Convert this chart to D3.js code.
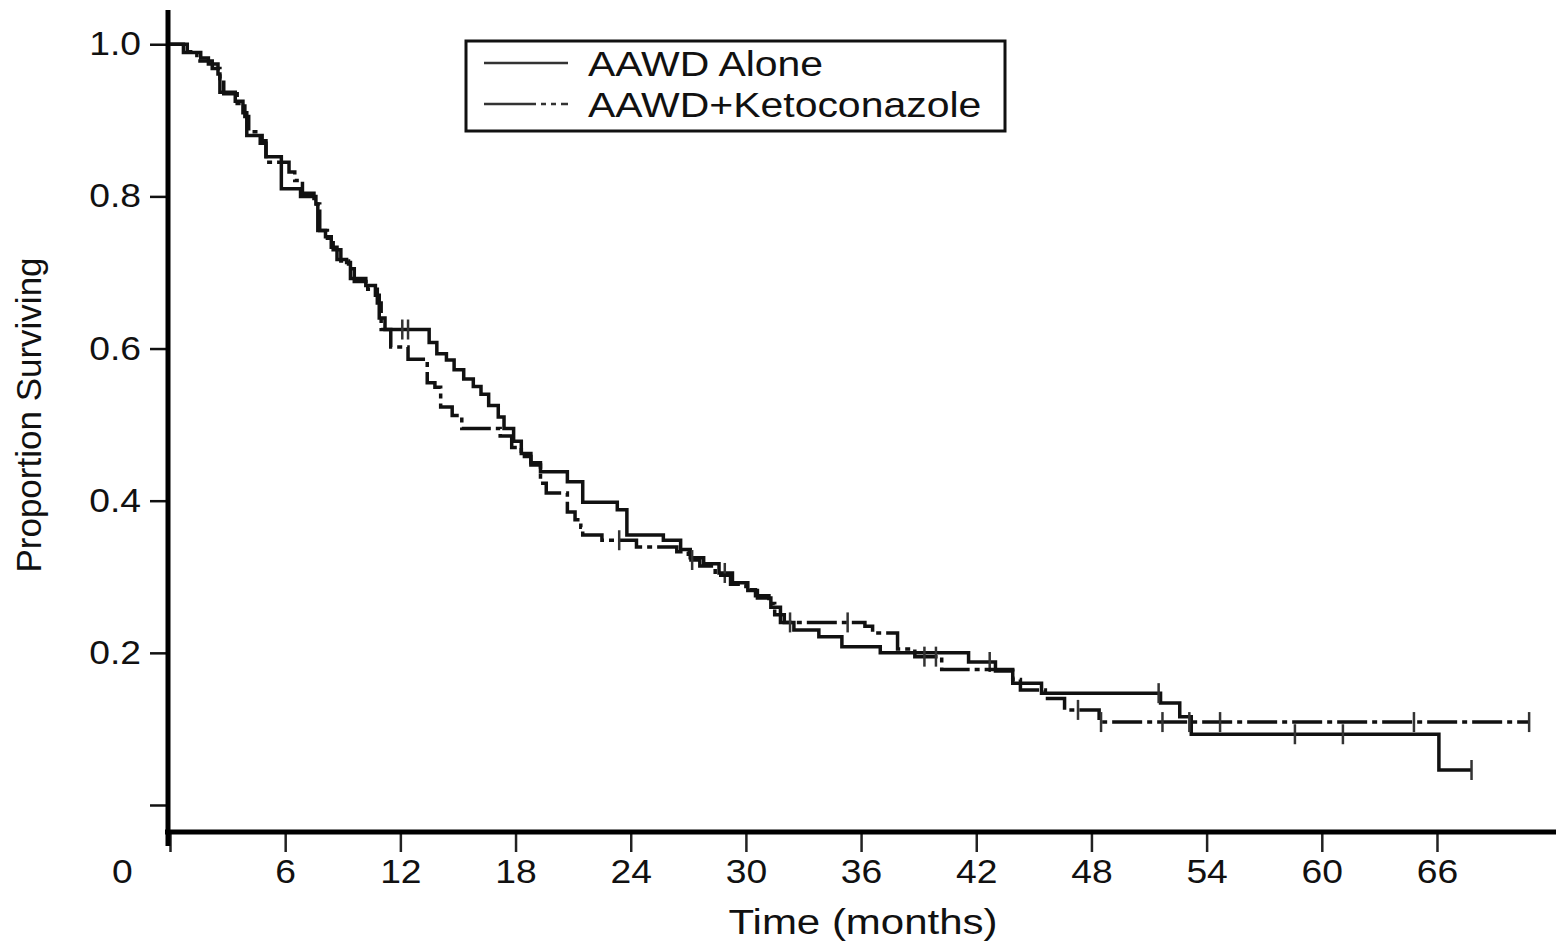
<!DOCTYPE html>
<html>
<head>
<meta charset="utf-8">
<script src="https://cdn.jsdelivr.net/npm/d3@7"></script>
<style>
html,body{margin:0;padding:0;background:#fff;}
svg{display:block;}
text{font-family:"Liberation Sans",Arial,sans-serif;fill:#111;}
</style>
</head>
<body>
<svg id="chart" width="1556" height="949"></svg>
<script>
// ---- data ----
const seriesNames = ["AAWD Alone", "AAWD+Ketoconazole"];
const xTicks = [0, 6, 12, 18, 24, 30, 36, 42, 48, 54, 60, 66];
const xTickLabels = ["0", "6", "12", "18", "24", "30", "36", "42", "48", "54", "60", "66"];
const yTicks = [0, 0.2, 0.4, 0.6, 0.8, 1.0];
const yTickLabels = ["", "0.2", "0.4", "0.6", "0.8", "1.0"];
const xTitle = "Time (months)";
const yTitle = "Proportion Surviving";

// AAWD Alone: event times (months) and survival after each step
const aloneTimes = [0, 0.7, 1.6, 2.0, 2.5, 2.6, 3.4, 3.8, 4.0, 4.8, 5.0, 5.8, 6.8, 7.6, 7.7, 8.1, 8.4, 8.7, 9.2, 9.4, 10.2, 10.7, 10.9, 11.2,
  13.5, 13.9, 14.4, 14.8, 15.3, 15.8, 16.2, 16.6, 17.1, 17.4, 17.9, 18.3, 18.8, 19.3, 20.7, 21.5, 23.3, 23.8, 25.7, 26.6, 27.1, 27.8,
  28.6, 29.3, 30.1, 30.6, 31.3, 31.8, 32.5, 33.8, 35.0, 37.0, 41.6, 43.0, 43.9, 45.4, 51.6, 52.6, 53.2, 66.1];
const aloneSurv = [1.0, 0.989, 0.982, 0.974, 0.961, 0.937, 0.925, 0.910, 0.880, 0.873, 0.852, 0.810, 0.800, 0.790, 0.755, 0.747, 0.733, 0.717, 0.713, 0.692, 0.683, 0.670, 0.640, 0.625,
  0.608, 0.593, 0.585, 0.572, 0.560, 0.550, 0.540, 0.525, 0.510, 0.495, 0.478, 0.462, 0.450, 0.438, 0.425, 0.398, 0.388, 0.355, 0.348, 0.336, 0.325, 0.317,
  0.305, 0.292, 0.282, 0.272, 0.260, 0.240, 0.230, 0.221, 0.208, 0.200, 0.188, 0.176, 0.160, 0.147, 0.134, 0.116, 0.093, 0.046];
const aloneEnd = 67.8;
const aloneCensored = [12.1, 12.4, 28.9, 42.7, 51.5, 58.6, 61.1, 67.8];

// AAWD + Ketoconazole
const ketoTimes = [0, 0.9, 1.4, 2.2, 2.6, 2.8, 3.5, 3.9, 4.1, 4.7, 5.0, 6.2, 6.5, 6.9, 7.5, 7.8, 8.2, 8.5, 8.9, 9.3, 9.6, 10.3, 10.8, 11.0,
  11.5, 12.4, 13.4, 13.8, 14.1, 14.7, 15.2, 17.2, 17.8, 18.3, 18.8, 19.3, 19.6, 20.7, 21.1, 21.4, 21.5, 22.5, 24.3, 26.4, 27.0, 27.6,
  28.4, 29.2, 30.0, 30.5, 31.2, 31.5, 32.0, 36.2, 36.6, 37.9, 38.8, 40.2, 43.9, 44.3, 45.6, 46.6, 48.4];
const ketoSurv = [1.0, 0.990, 0.978, 0.968, 0.955, 0.935, 0.922, 0.905, 0.885, 0.870, 0.845, 0.832, 0.821, 0.804, 0.790, 0.755, 0.745, 0.730, 0.715, 0.705, 0.688, 0.678, 0.660, 0.625,
  0.602, 0.586, 0.555, 0.549, 0.523, 0.512, 0.495, 0.485, 0.470, 0.458, 0.447, 0.423, 0.410, 0.385, 0.375, 0.365, 0.355, 0.348, 0.339, 0.333, 0.322, 0.314,
  0.302, 0.290, 0.283, 0.275, 0.265, 0.250, 0.240, 0.235, 0.226, 0.205, 0.195, 0.178, 0.165, 0.151, 0.140, 0.125, 0.109];
const ketoEnd = 70.8;
const ketoCensored = [23.4, 27.2, 32.3, 35.3, 39.3, 39.9, 47.3, 48.5, 51.7, 53.1, 54.7, 64.8, 70.8];

// ---- drawing ----
const svg = d3.select("#chart");
const x = d3.scaleLinear().domain([0, 72.2]).range([170, 1556]);
const y = d3.scaleLinear().domain([-0.0355, 1.045]).range([832, 10]);

function stretch(sel, sx) {
  sel.each(function () {
    const t = d3.select(this);
    const xx = +t.attr("x") || 0, yy = +t.attr("y") || 0;
    t.attr("x", 0).attr("y", 0).attr("transform", `translate(${xx},${yy}) scale(${sx},1)`);
  });
}

// y axis
const yAxis = d3.axisLeft(y).tickValues(yTicks)
  .tickFormat((d, i) => yTickLabels[i]).tickSize(18).tickPadding(9);
const gy = svg.append("g").attr("transform", "translate(168,0)").call(yAxis);
gy.select(".domain").remove();
gy.selectAll(".tick line").attr("stroke", "#111").attr("stroke-width", 2.5);
gy.selectAll(".tick text").attr("font-size", 33).attr("fill", "#111")
  .attr("font-family", "Liberation Sans, Arial, sans-serif");
stretch(gy.selectAll(".tick text"), 1.13);

// x axis
const xAxis = d3.axisBottom(x).tickValues(xTicks)
  .tickFormat((d, i) => xTickLabels[i]).tickSize(18).tickPadding(8);
const gx = svg.append("g").attr("transform", "translate(0,834)").call(xAxis);
gx.select(".domain").remove();
gx.selectAll(".tick line").attr("stroke", "#222").attr("stroke-width", 2.5);
gx.selectAll(".tick text").attr("font-size", 33).attr("fill", "#111")
  .attr("font-family", "Liberation Sans, Arial, sans-serif");
// the "0" label sits left of the axis corner in the original
gx.selectAll(".tick text").filter((d) => d === 0).attr("x", -48);
stretch(gx.selectAll(".tick text"), 1.13);

// axis lines (thick)
svg.append("line").attr("x1", 168).attr("x2", 168).attr("y1", 10).attr("y2", 846)
  .attr("stroke", "#000").attr("stroke-width", 5);
svg.append("line").attr("x1", 165).attr("x2", 1556).attr("y1", 832).attr("y2", 832)
  .attr("stroke", "#000").attr("stroke-width", 5);

// axis titles
svg.append("text").attr("transform", `translate(863,934) scale(1.2,1)`)
  .attr("text-anchor", "middle").attr("font-size", 35).text(xTitle);
svg.append("text").attr("transform", `translate(41,415) rotate(-90)`)
  .attr("text-anchor", "middle").attr("font-size", 35).text(yTitle);

// curves
const line = d3.line().x(d => x(d[0])).y(d => y(d[1])).curve(d3.curveStepAfter);
function pts(ts, ss, end) {
  const p = ts.map((t, i) => [t, ss[i]]);
  p.push([end, ss[ss.length - 1]]);
  return p;
}
function survAt(ts, ss, t) {
  let s = ss[0];
  for (let i = 0; i < ts.length; i++) if (ts[i] <= t) s = ss[i];
  return s;
}
const series = [
  {name: seriesNames[0], t: aloneTimes, s: aloneSurv, end: aloneEnd, cens: aloneCensored, dash: null},
  {name: seriesNames[1], t: ketoTimes, s: ketoSurv, end: ketoEnd, cens: ketoCensored, dash: "30,5,5,5"}
];
const plot = svg.append("g");
series.forEach(sr => {
  plot.append("path").datum(pts(sr.t, sr.s, sr.end))
    .attr("d", line).attr("fill", "none").attr("stroke", "#111")
    .attr("stroke-width", 3.5).attr("stroke-dasharray", sr.dash);
  plot.selectAll(null).data(sr.cens).enter().append("line")
    .attr("x1", d => x(d)).attr("x2", d => x(d))
    .attr("y1", d => y(survAt(sr.t, sr.s, d)) - 10)
    .attr("y2", d => y(survAt(sr.t, sr.s, d)) + 10)
    .attr("stroke", "#333").attr("stroke-width", 2.5);
});

// legend
const lg = svg.append("g");
lg.append("rect").attr("x", 466).attr("y", 41).attr("width", 539).attr("height", 90)
  .attr("fill", "#fff").attr("stroke", "#111").attr("stroke-width", 3);
series.forEach((sr, i) => {
  const ly = 63 + i * 41;
  lg.append("line").attr("x1", 484).attr("x2", 568).attr("y1", ly).attr("y2", ly)
    .attr("stroke", "#333").attr("stroke-width", 2.5).attr("stroke-dasharray", sr.dash ? "52,5,5,5,5,5" : null);
  lg.append("text").attr("transform", `translate(588,${ly + 13}) scale(1.17,1)`)
    .attr("font-size", 35).text(sr.name);
});
</script>
</body>
</html>
